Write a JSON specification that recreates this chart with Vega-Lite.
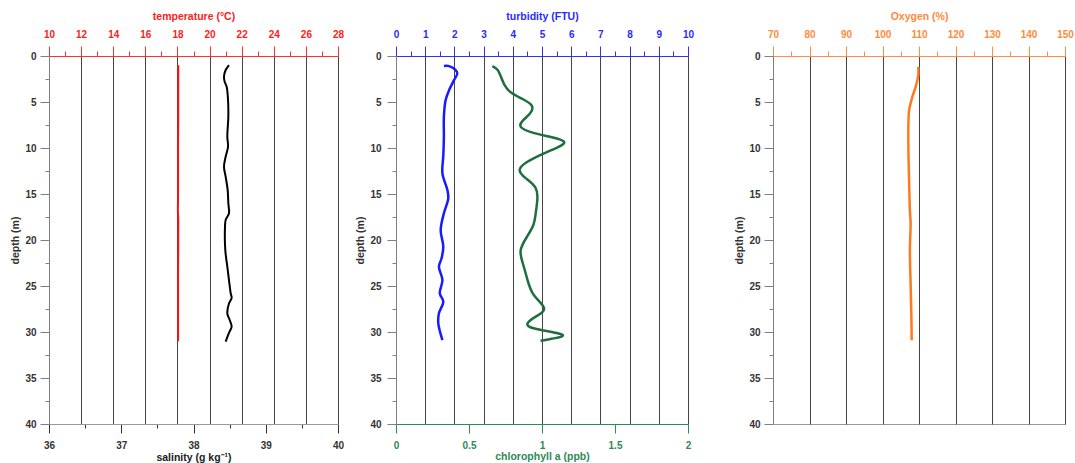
{
  "$schema": "https://vega.github.io/schema/vega-lite/v6.json",
  "background": "white",
  "padding": {"left": 10, "top": 11, "right": 0, "bottom": 0},
  "config": {
    "view": {"stroke": "#999", "strokeWidth": 1},
    "axis": {
      "labelFont": "Liberation Sans", "labelFontWeight": "bold", "labelFontSize": 10,
      "titleFont": "Liberation Sans", "titleFontWeight": "bold", "titleFontSize": 10.5,
      "labelFlush": false, "labelOverlap": false, "format": "~g"
    }
  },
  "datasets": {
    "temp": [
      {"depth": 1.0, "temperature": 18.05}, {"depth": 3, "temperature": 18.05}, {"depth": 5, "temperature": 18.05},
      {"depth": 7, "temperature": 18.05}, {"depth": 9, "temperature": 18.04}, {"depth": 11, "temperature": 18.04},
      {"depth": 13, "temperature": 18.04}, {"depth": 15, "temperature": 18.04}, {"depth": 17, "temperature": 18.03},
      {"depth": 17.6, "temperature": 18.05}, {"depth": 19, "temperature": 18.05}, {"depth": 21, "temperature": 18.05},
      {"depth": 23, "temperature": 18.04}, {"depth": 25, "temperature": 18.04}, {"depth": 27, "temperature": 18.04},
      {"depth": 29, "temperature": 18.04}, {"depth": 31, "temperature": 18.04}
    ],
    "sal": [
      {"depth": 0.98, "salinity": 38.491}, {"depth": 1.52, "salinity": 38.445}, {"depth": 2.25, "salinity": 38.422},
      {"depth": 2.79, "salinity": 38.431}, {"depth": 3.33, "salinity": 38.459}, {"depth": 4.78, "salinity": 38.478},
      {"depth": 6.6, "salinity": 38.482}, {"depth": 8.77, "salinity": 38.468}, {"depth": 9.86, "salinity": 38.478},
      {"depth": 10.94, "salinity": 38.445}, {"depth": 12.03, "salinity": 38.422}, {"depth": 13.12, "salinity": 38.445},
      {"depth": 14.57, "salinity": 38.473}, {"depth": 16.01, "salinity": 38.482}, {"depth": 17.1, "salinity": 38.491},
      {"depth": 17.83, "salinity": 38.445}, {"depth": 18.55, "salinity": 38.436}, {"depth": 21.09, "salinity": 38.44},
      {"depth": 22.9, "salinity": 38.468}, {"depth": 24.35, "salinity": 38.491}, {"depth": 25.8, "salinity": 38.515},
      {"depth": 26.3, "salinity": 38.528}, {"depth": 26.9, "salinity": 38.491}, {"depth": 27.97, "salinity": 38.468},
      {"depth": 28.7, "salinity": 38.501}, {"depth": 29.4, "salinity": 38.528}, {"depth": 30.1, "salinity": 38.491},
      {"depth": 31.05, "salinity": 38.445}
    ],
    "turb": [
      {"depth": 1.09, "turbidity": 1.64}, {"depth": 1.1, "turbidity": 1.82}, {"depth": 1.45, "turbidity": 2.02},
      {"depth": 1.88, "turbidity": 2.1}, {"depth": 2.61, "turbidity": 1.99}, {"depth": 3.7, "turbidity": 1.82},
      {"depth": 4.78, "turbidity": 1.7}, {"depth": 6.6, "turbidity": 1.64}, {"depth": 8.77, "turbidity": 1.64},
      {"depth": 10.84, "turbidity": 1.62}, {"depth": 12.75, "turbidity": 1.59}, {"depth": 14.57, "turbidity": 1.76},
      {"depth": 15.47, "turbidity": 1.79}, {"depth": 17.1, "turbidity": 1.64}, {"depth": 18.91, "turbidity": 1.53},
      {"depth": 20.73, "turbidity": 1.62}, {"depth": 21.99, "turbidity": 1.56}, {"depth": 22.9, "turbidity": 1.47},
      {"depth": 24.35, "turbidity": 1.59}, {"depth": 25.8, "turbidity": 1.5}, {"depth": 26.7, "turbidity": 1.62},
      {"depth": 27.97, "turbidity": 1.47}, {"depth": 29.1, "turbidity": 1.45}, {"depth": 30.87, "turbidity": 1.59}
    ],
    "chl": [
      {"depth": 1.09, "chlorophyll": 0.66}, {"depth": 1.5, "chlorophyll": 0.695}, {"depth": 2.3, "chlorophyll": 0.72},
      {"depth": 3.2, "chlorophyll": 0.745}, {"depth": 4.0, "chlorophyll": 0.79}, {"depth": 4.7, "chlorophyll": 0.87},
      {"depth": 5.4, "chlorophyll": 0.93}, {"depth": 6.2, "chlorophyll": 0.92}, {"depth": 7.0, "chlorophyll": 0.87},
      {"depth": 7.7, "chlorophyll": 0.855}, {"depth": 8.3, "chlorophyll": 0.93}, {"depth": 8.8, "chlorophyll": 1.06},
      {"depth": 9.3, "chlorophyll": 1.15}, {"depth": 9.9, "chlorophyll": 1.11}, {"depth": 10.6, "chlorophyll": 1.01},
      {"depth": 11.5, "chlorophyll": 0.9}, {"depth": 12.4, "chlorophyll": 0.847}, {"depth": 13.3, "chlorophyll": 0.89},
      {"depth": 14.3, "chlorophyll": 0.955}, {"depth": 15.6, "chlorophyll": 0.968}, {"depth": 17.1, "chlorophyll": 0.957},
      {"depth": 18.4, "chlorophyll": 0.94}, {"depth": 19.7, "chlorophyll": 0.895}, {"depth": 21.1, "chlorophyll": 0.854},
      {"depth": 22.5, "chlorophyll": 0.868}, {"depth": 24.3, "chlorophyll": 0.9}, {"depth": 26.0, "chlorophyll": 0.945},
      {"depth": 27.4, "chlorophyll": 1.014}, {"depth": 28.3, "chlorophyll": 0.96}, {"depth": 29.1, "chlorophyll": 0.9},
      {"depth": 29.7, "chlorophyll": 0.97}, {"depth": 30.3, "chlorophyll": 1.14}, {"depth": 30.75, "chlorophyll": 1.06},
      {"depth": 30.95, "chlorophyll": 0.99}
    ],
    "oxy": [
      {"depth": 1.2, "oxygen": 109.8}, {"depth": 2.07, "oxygen": 109.8}, {"depth": 3.33, "oxygen": 109.1},
      {"depth": 4.42, "oxygen": 108.2}, {"depth": 5.87, "oxygen": 107.3}, {"depth": 7.3, "oxygen": 107.1},
      {"depth": 10.2, "oxygen": 107.1}, {"depth": 13.8, "oxygen": 107.3}, {"depth": 16.7, "oxygen": 107.5},
      {"depth": 18.2, "oxygen": 107.7}, {"depth": 21.1, "oxygen": 107.5}, {"depth": 24.7, "oxygen": 107.7},
      {"depth": 28.0, "oxygen": 107.9}, {"depth": 30.9, "oxygen": 108.0}
    ]
  },
  "hconcat": [
    {
      "spacing": 10,
      "hconcat": [
        {
          "width": 289, "height": 368,
          "encoding": {
            "y": {"field": "depth", "type": "quantitative", "scale": {"domain": [0, 40], "reverse": true, "nice": false},
              "axis": {"title": "depth (m)", "values": [0,2.5,5,7.5,10,12.5,15,17.5,20,22.5,25,27.5,30,32.5,35,37.5,40],
                "labelExpr": "datum.value % 5 == 0 ? datum.label : ''",
                "tickSize": {"condition": {"test": "datum.value % 5 != 0", "value": 4}, "value": 9},
                "grid": false, "domainColor": "#808080", "tickColor": "#808080", "labelColor": "#333", "titleColor": "#333",
                "labelPadding": 4, "titlePadding": 4, "labelFontSize": 10}},
            "order": {"field": "depth", "type": "quantitative"}
          },
          "layer": [
            {
              "data": {"name": "temp"},
              "mark": {"type": "line", "color": "#ff1010", "strokeWidth": 2, "interpolate": "catmull-rom"},
              "encoding": {
                "x": {"field": "temperature", "type": "quantitative", "scale": {"domain": [10, 28], "nice": false},
                  "axis": {"orient": "top", "title": "temperature (°C)",
                    "values": [10,11,12,13,14,15,16,17,18,19,20,21,22,23,24,25,26,27,28],
                    "labelExpr": "datum.value % 2 == 0 ? datum.label : ''",
                    "tickSize": {"condition": {"test": "datum.value % 2 != 0", "value": 5}, "value": 10},
                    "grid": true, "gridColor": "#444", "gridWidth": 1,
                    "gridOpacity": {"condition": {"test": "datum.value % 2 != 0 || datum.value == 10", "value": 0}, "value": 1},
                    "domainColor": "#ff3030", "tickColor": "#ff3030", "labelColor": "#ff2020", "titleColor": "#ff2020",
                    "labelPadding": 6.5, "titlePadding": 8}}
              }
            },
            {
              "data": {"name": "sal"},
              "mark": {"type": "line", "color": "#000000", "strokeWidth": 2, "interpolate": "catmull-rom"},
              "encoding": {
                "x": {"field": "salinity", "type": "quantitative", "scale": {"domain": [36, 40], "nice": false},
                  "axis": {"orient": "bottom", "title": "salinity (g kg⁻¹)",
                    "values": [36,36.5,37,37.5,38,38.5,39,39.5,40],
                    "labelExpr": "datum.value % 1 == 0 ? datum.label : ''",
                    "tickSize": {"condition": {"test": "datum.value % 1 != 0", "value": 4}, "value": 9},
                    "grid": false, "domainColor": "#999", "tickColor": "#333", "labelColor": "#333", "titleColor": "#222",
                    "labelPadding": 7, "titlePadding": 2.5}}
              }
            }
          ],
          "resolve": {"scale": {"x": "independent"}}
        },
        {
          "width": 292, "height": 368,
          "encoding": {
            "y": {"field": "depth", "type": "quantitative", "scale": {"domain": [0, 40], "reverse": true, "nice": false},
              "axis": {"title": "depth (m)", "values": [0,2.5,5,7.5,10,12.5,15,17.5,20,22.5,25,27.5,30,32.5,35,37.5,40],
                "labelExpr": "datum.value % 5 == 0 ? datum.label : ''",
                "tickSize": {"condition": {"test": "datum.value % 5 != 0", "value": 4}, "value": 9},
                "grid": false, "domainColor": "#808080", "tickColor": "#808080", "labelColor": "#333", "titleColor": "#333",
                "labelPadding": 6, "titlePadding": 4, "labelFontSize": 10}},
            "order": {"field": "depth", "type": "quantitative"}
          },
          "layer": [
            {
              "data": {"name": "turb"},
              "mark": {"type": "line", "color": "#1a1aff", "strokeWidth": 2.5, "interpolate": "catmull-rom"},
              "encoding": {
                "x": {"field": "turbidity", "type": "quantitative", "scale": {"domain": [0, 10], "nice": false},
                  "axis": {"orient": "top", "title": "turbidity (FTU)",
                    "values": [0,0.5,1,1.5,2,2.5,3,3.5,4,4.5,5,5.5,6,6.5,7,7.5,8,8.5,9,9.5,10],
                    "labelExpr": "datum.value % 1 == 0 ? datum.label : ''",
                    "tickSize": {"condition": {"test": "datum.value % 1 != 0", "value": 5}, "value": 10},
                    "grid": true, "gridColor": "#444", "gridWidth": 1,
                    "gridOpacity": {"condition": {"test": "datum.value % 1 != 0 || datum.value == 0", "value": 0}, "value": 1},
                    "domainColor": "#3030ff", "tickColor": "#3030ff", "labelColor": "#2a2aff", "titleColor": "#2a2aff",
                    "labelPadding": 6.5, "titlePadding": 8}}
              }
            },
            {
              "data": {"name": "chl"},
              "mark": {"type": "line", "color": "#1f6e3e", "strokeWidth": 2.5, "interpolate": "natural"},
              "encoding": {
                "x": {"field": "chlorophyll", "type": "quantitative", "scale": {"domain": [0, 2], "nice": false},
                  "axis": {"orient": "bottom", "title": "chlorophyll a (ppb)",
                    "values": [0, 0.5, 1, 1.5, 2],
                    "tickSize": 9,
                    "grid": false, "domainColor": "#2f8a55", "tickColor": "#2f8a55", "labelColor": "#2f8a55", "titleColor": "#2f8a55",
                    "labelPadding": 7, "titlePadding": 1}}
              }
            }
          ],
          "resolve": {"scale": {"x": "independent"}}
        }
      ]
    },
    {
      "width": 292, "height": 368,
      "data": {"name": "oxy"},
      "mark": {"type": "line", "color": "#ff7a1f", "strokeWidth": 2.5, "interpolate": "catmull-rom"},
      "encoding": {
        "y": {"field": "depth", "type": "quantitative", "scale": {"domain": [0, 40], "reverse": true, "nice": false},
          "axis": {"title": "depth (m)", "values": [0,2.5,5,7.5,10,12.5,15,17.5,20,22.5,25,27.5,30,32.5,35,37.5,40],
            "labelExpr": "datum.value % 5 == 0 ? datum.label : ''",
            "tickSize": {"condition": {"test": "datum.value % 5 != 0", "value": 4}, "value": 9},
            "grid": false, "domainColor": "#808080", "tickColor": "#808080", "labelColor": "#333", "titleColor": "#333",
            "labelPadding": 4, "titlePadding": 4, "labelFontSize": 10}},
        "x": {"field": "oxygen", "type": "quantitative", "scale": {"domain": [70, 150], "nice": false},
          "axis": {"orient": "top", "title": "Oxygen (%)",
            "values": [70,75,80,85,90,95,100,105,110,115,120,125,130,135,140,145,150],
            "labelExpr": "datum.value % 10 == 0 ? datum.label : ''",
            "tickSize": {"condition": {"test": "datum.value % 10 != 0", "value": 5}, "value": 10},
            "grid": true, "gridColor": "#444", "gridWidth": 1,
            "gridOpacity": {"condition": {"test": "datum.value % 10 != 0 || datum.value == 70", "value": 0}, "value": 1},
            "domainColor": "#ff8c40", "tickColor": "#ff8c40", "labelColor": "#ff8a3a", "titleColor": "#ff8a3a",
            "labelPadding": 6.5, "titlePadding": 8}},
        "order": {"field": "depth", "type": "quantitative"}
      }
    }
  ],
  "spacing": 39
}
